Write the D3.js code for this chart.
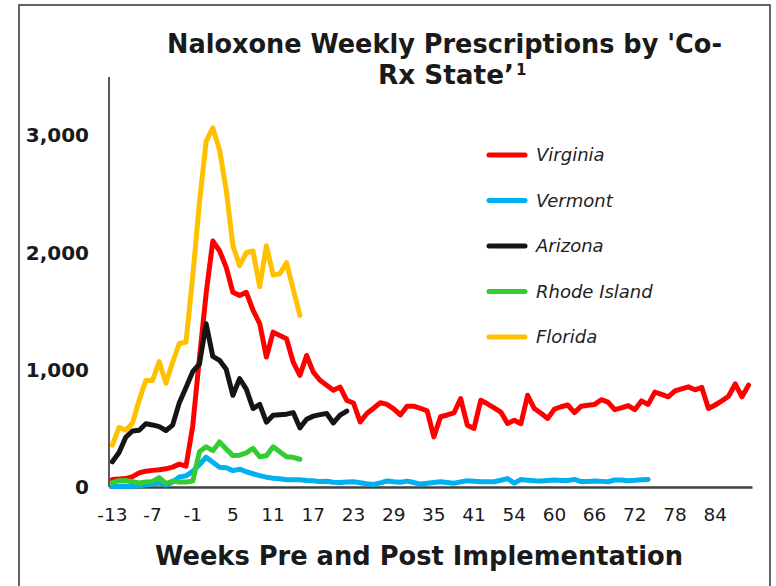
<!DOCTYPE html>
<html>
<head>
<meta charset="utf-8">
<script src="https://cdn.jsdelivr.net/npm/d3@7"></script>
<style>
  body { margin: 0; background: #fff; }
  svg { display: block; }
</style>
</head>
<body>
<div id="chart"></div>
<script>
// categories: weeks relative to implementation (weeks 45-51 absent in source)
const weeks = d3.range(-13, 45).concat(d3.range(52, 90));
const xTickLabels = [-13, -7, -1, 5, 11, 17, 23, 29, 35, 41, 54, 60, 66, 72, 78, 84];
const yTicks = [0, 1000, 2000, 3000];

const seriesNames = ["Virginia", "Vermont", "Arizona", "Rhode Island", "Florida"];

const virginia = [65,68,72,88,120,135,142,147,155,170, 195,178,520,1100,1650,2100,2017,1875,1662,1634,
  1662,1510,1395,1109,1322,1294,1266,1066,953,1123, 981,911,868,826,853,740,717,556,627,672,
  720,705,667,615,690,690,672,650,428,600, 615,632,755,528,500,740,710,675,640,542,
  570,540,783,670,629,585,665,685,700,635, 690,698,705,745,725,660,675,695,660,735,
  705,810,790,770,820,838,855,830,850,670, 700,735,775,880,770,870];
const vermont = [5,6,7,7,8,18,26,33,18,42, 85,95,135,190,255,212,168,165,140,152,
  130,113,97,84,75,70,62,62,62,55, 54,46,49,40,38,43,45,37,28,21,
  35,51,44,40,50,38,25,32,38,45, 38,32,44,54,50,45,45,45,58,72,
  33,64,58,53,52,56,60,55,55,65, 46,48,51,48,45,60,60,54,57,62, 65];
const arizona = [215,295,425,478,485,540,530,515,482,528, 720,850,985,1050,1393,1115,1081,1005,783,925,
  835,670,705,553,613,617,622,635,505,578, 605,618,627,547,613,648];
const rhodeIsland = [37,54,55,45,35,43,48,80,30,50, 42,42,50,300,343,310,385,325,268,272,
  292,330,258,266,343,300,258,253,237];
const florida = [357,510,485,545,740,910,910,1070,885,1065, 1225,1237,1800,2425,2950,3065,2880,2536,2060,1890,
  2000,2015,1710,2060,1810,1820,1915,1690,1465];

const colors = ["#ff0000", "#00b0f0", "#151515", "#33cc33", "#ffc000"];
const allValues = [virginia, vermont, arizona, rhodeIsland, florida];

const W = 776, H = 586;
const svg = d3.select("#chart").append("svg")
  .attr("width", W).attr("height", H);

// chart border
svg.append("rect")
  .attr("x", 19).attr("y", 5).attr("width", 751).attr("height", 620)
  .attr("fill", "none").attr("stroke", "#333").attr("stroke-width", 1.5);

const x = d3.scaleBand().domain(weeks).range([109, 752]);
const y = d3.scaleLinear().domain([0, 3500]).range([487, 77]);

// title
const title = svg.append("g")
  .attr("font-family", "'DejaVu Sans', Verdana, sans-serif")
  .attr("font-weight", "bold").attr("fill", "#1a1a1a").attr("font-size", 26);
title.append("text")
  .attr("x", 167).attr("y", 53)
  .attr("textLength", 555).attr("lengthAdjust", "spacingAndGlyphs")
  .text("Naloxone Weekly Prescriptions by 'Co-");
title.append("text")
  .attr("x", 378).attr("y", 84)
  .attr("textLength", 136).attr("lengthAdjust", "spacingAndGlyphs")
  .text("Rx State\u2019");
title.append("text")
  .attr("x", 516).attr("y", 75).attr("font-size", 15)
  .text("1");

// y axis
const yAxis = svg.append("g")
  .attr("transform", "translate(109,0)")
  .call(d3.axisLeft(y).tickValues(yTicks).tickSize(0).tickPadding(20)
    .tickFormat(d3.format(",")));
yAxis.select(".domain").attr("stroke", "#222").attr("stroke-width", 1.5)
  .attr("d", "M0,77V487");
yAxis.selectAll("text")
  .attr("font-family", "'DejaVu Sans', Verdana, sans-serif")
  .attr("font-weight", "bold").attr("font-size", 20).attr("fill", "#1a1a1a");

// x axis
const xAxis = svg.append("g")
  .attr("transform", "translate(0,487)")
  .call(d3.axisBottom(x).tickValues(xTickLabels).tickSize(0).tickPadding(21));
xAxis.select(".domain").attr("stroke", "#404040").attr("stroke-width", 2.5);
xAxis.selectAll("text")
  .attr("font-family", "'DejaVu Sans', sans-serif")
  .attr("font-size", 18.5).attr("fill", "#1a1a1a");

svg.append("text")
  .attr("x", 419).attr("y", 565).attr("text-anchor", "middle")
  .attr("font-family", "'DejaVu Sans', Verdana, sans-serif")
  .attr("font-weight", "bold").attr("font-size", 27).attr("fill", "#1a1a1a")
  .attr("textLength", 528).attr("lengthAdjust", "spacingAndGlyphs")
  .text("Weeks Pre and Post Implementation");

// lines
const line = d3.line()
  .x((d, i) => x(weeks[i]) + x.bandwidth() / 2)
  .y(d => y(d));

svg.append("g").selectAll("path")
  .data(allValues)
  .join("path")
  .attr("d", d => line(d))
  .attr("fill", "none")
  .attr("stroke", (d, i) => colors[i])
  .attr("stroke-width", 5)
  .attr("stroke-linejoin", "round")
  .attr("stroke-linecap", "round");

// legend
const legend = svg.append("g").selectAll("g")
  .data(seriesNames)
  .join("g")
  .attr("transform", (d, i) => `translate(0,${155 + i * 45.5})`);
legend.append("line")
  .attr("x1", 489).attr("x2", 525)
  .attr("stroke", (d, i) => colors[i])
  .attr("stroke-width", 5).attr("stroke-linecap", "round");
legend.append("text")
  .attr("x", 536).attr("dy", "0.35em")
  .attr("font-family", "'DejaVu Sans', Verdana, sans-serif")
  .attr("font-style", "italic").attr("font-size", 18).attr("fill", "#222")
  .text(d => d);
</script>
</body>
</html>
